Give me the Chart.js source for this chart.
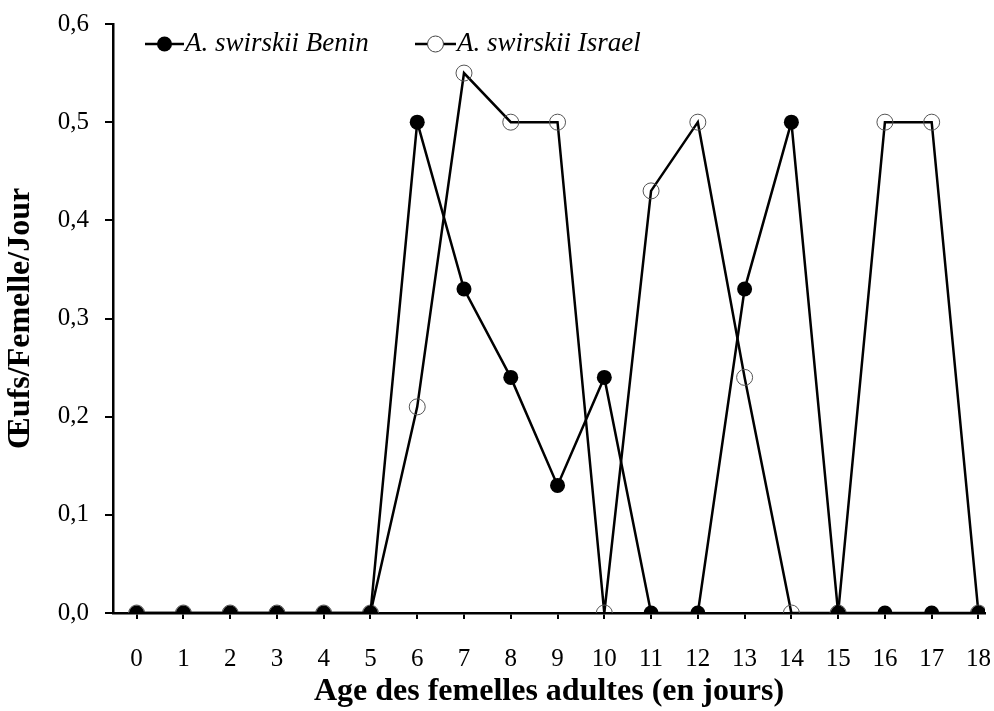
<!DOCTYPE html>
<html>
<head>
<meta charset="utf-8">
<script src="https://cdn.jsdelivr.net/npm/chart.js@4"></script>
<style>
  html, body { margin: 0; padding: 0; background: #fff; }
  #wrap { width: 994px; height: 711px; }
</style>
</head>
<body>
<div id="wrap"><canvas id="mychart" width="994" height="711"></canvas></div>
<script>
// ages (days) and eggs per female per day
const ages = [0, 1, 2, 3, 4, 5, 6, 7, 8, 9, 10, 11, 12, 13, 14, 15, 16, 17, 18];
const benin = [0, 0, 0, 0, 0, 0, 0.5, 0.33, 0.24, 0.13, 0.24, 0, 0, 0.33, 0.5, 0, 0, 0, 0];
const israel = [0, 0, 0, 0, 0, 0, 0.21, 0.55, 0.5, 0.5, 0, 0.43, 0.5, 0.24, 0, 0, 0.5, 0.5, 0];
const seriesNames = ['A. swirskii Benin', 'A. swirskii Israel'];

const serif = "'Liberation Serif', 'Times New Roman', serif";

function toPoints(vals) {
    return ages.map((a, i) => ({ x: a, y: vals[i] }));
}

// no extra label overhang padding, keep the plot box fixed
function noPad(s) {
    s.paddingLeft = 0;
    s.paddingRight = 0;
    s.paddingTop = 0;
    s.paddingBottom = 0;
}

// legend drawn inside the plot, line + marker + italic text
const insideLegend = {
    id: 'insideLegend',
    afterDraw(chart) {
        const ctx = chart.ctx;
        const items = [
            { x0: 145, x1: 184, y: 44, filled: true, name: seriesNames[0] },
            { x0: 415, x1: 456, y: 44, filled: false, name: seriesNames[1] }
        ];
        ctx.save();
        items.forEach(it => {
            ctx.strokeStyle = '#000';
            ctx.lineWidth = 2.5;
            ctx.beginPath();
            ctx.moveTo(it.x0, it.y);
            ctx.lineTo(it.x1, it.y);
            ctx.stroke();
            const cx = (it.x0 + it.x1) / 2;
            ctx.beginPath();
            if (it.filled) {
                ctx.arc(cx, it.y, 7.5, 0, Math.PI * 2);
                ctx.fillStyle = '#000';
                ctx.fill();
            } else {
                ctx.arc(cx, it.y, 8, 0, Math.PI * 2);
                ctx.fillStyle = '#fff';
                ctx.fill();
                ctx.lineWidth = 1;
                ctx.strokeStyle = '#444';
                ctx.stroke();
            }
            ctx.fillStyle = '#000';
            ctx.font = 'italic 27px ' + serif;
            ctx.textBaseline = 'middle';
            ctx.fillText(it.name, it.x1 + 1, it.y);
        });
        ctx.restore();
    }
};

const ctx = document.getElementById('mychart').getContext('2d');
const chart = new Chart(ctx, {
    type: 'line',
    data: {
        datasets: [{
            label: seriesNames[0],
            data: toPoints(benin),
            borderColor: '#000',
            borderWidth: 2.5,
            pointRadius: 7.5,
            pointBackgroundColor: '#000',
            pointBorderColor: '#000',
            pointBorderWidth: 0,
            tension: 0
        }, {
            label: seriesNames[1],
            data: toPoints(israel),
            borderColor: '#000',
            borderWidth: 2.5,
            pointRadius: 8,
            pointBackgroundColor: 'rgba(0,0,0,0)',
            pointBorderColor: '#555',
            pointBorderWidth: 1,
            tension: 0
        }]
    },
    options: {
        responsive: false,
        animation: false,
        layout: { padding: { top: 24, right: 1, left: 0, bottom: 0 } },
        plugins: {
            legend: { display: false },
            tooltip: { enabled: false }
        },
        scales: {
            x: {
                type: 'linear',
                min: -0.505,
                max: 18.14,
                afterFit: (s) => { s.height = 98; noPad(s); },
                border: { color: '#000', width: 2.5 },
                grid: { drawOnChartArea: false, color: '#000', tickLength: 6, lineWidth: 2 },
                ticks: {
                    stepSize: 1,
                    includeBounds: false,
                    autoSkip: false,
                    maxRotation: 0,
                    color: '#000',
                    padding: 25,
                    font: { family: serif, size: 25 },
                    callback: (v) => Number.isInteger(v) ? String(v) : ''
                },
                title: {
                    display: true,
                    text: 'Age des femelles adultes (en jours)',
                    color: '#000',
                    font: { family: serif, size: 32, weight: 'bold' },
                    padding: { top: 0, bottom: 0 }
                }
            },
            y: {
                min: 0,
                max: 0.6,
                afterFit: (s) => { s.width = 113; noPad(s); },
                border: { color: '#000', width: 2.5 },
                grid: { drawOnChartArea: false, color: '#000', tickLength: 8, lineWidth: 2 },
                ticks: {
                    stepSize: 0.1,
                    color: '#000',
                    padding: 16,
                    font: { family: serif, size: 25 },
                    callback: (v) => v.toFixed(1).replace('.', ',')
                },
                title: {
                    display: true,
                    text: 'Œufs/Femelle/Jour',
                    color: '#000',
                    font: { family: serif, size: 32, weight: 'bold' },
                    padding: { top: 2, bottom: 0 }
                }
            }
        }
    },
    plugins: [insideLegend]
});
</script>
</body>
</html>
